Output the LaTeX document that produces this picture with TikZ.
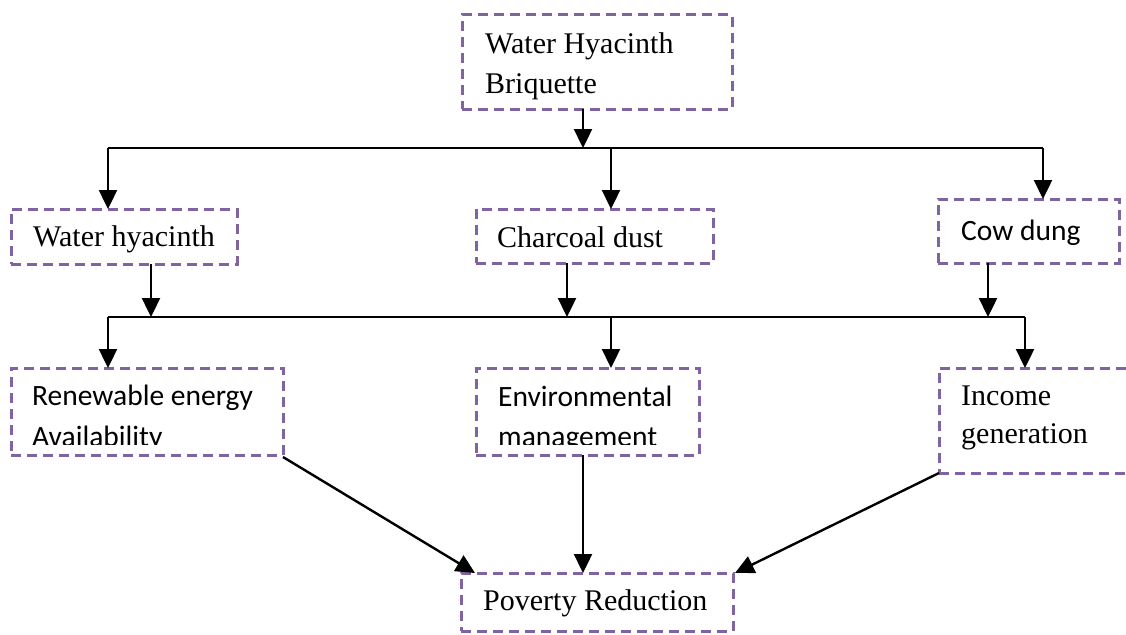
\documentclass[tikz,border=0pt]{standalone}
\usepackage{fontspec}
\setmainfont{Liberation Serif}
\newfontfamily\calibri{Carlito}
\usetikzlibrary{arrows.meta}
\definecolor{boxpurple}{RGB}{128,100,162}
\begin{document}
\begin{tikzpicture}[x=1pt,y=-1pt,
  box/.style={draw=boxpurple, line width=3pt, dash pattern=on 10pt off 6pt, rectangle, inner sep=0pt, outer sep=0pt},
  conn/.style={line width=2.4pt, black},
  arr/.style={conn, -{Triangle[length=19pt,width=18pt]}},
  txt/.style={anchor=base west, inner sep=0pt, font=\fontsize{30}{36}\selectfont},
  ctxt/.style={anchor=base west, inner sep=0pt, font=\fontsize{29.5}{36}\calibri}]
\useasboundingbox (0,0) rectangle (1126,634);

% boxes
\node[box, minimum width=270pt, minimum height=94pt] (top) at (597,62) {};
\node[box, minimum width=226pt, minimum height=55pt] (wh) at (124,236.5) {};
\node[box, minimum width=237pt, minimum height=54pt] (cd) at (594.5,236) {};
\node[box, minimum width=181pt, minimum height=64pt] (cow) at (1028.5,231) {};
\node[box, minimum width=272pt, minimum height=87pt] (ren) at (147,411.5) {};
\node[box, minimum width=223pt, minimum height=87pt] (env) at (587.5,411.5) {};
\node[box, minimum width=201pt, minimum height=105pt] (inc) at (1039.5,420.5) {};
\node[box, minimum width=272pt, minimum height=58pt] (pov) at (597,602) {};

% texts
\node[txt] (top1) at (485,53) {Water Hyacinth};
\node[txt] (top2) at (485,93) {Briquette};
\node[txt] (wht) at (33,246) {Water hyacinth};
\node[txt] (cdt) at (497,247) {Charcoal dust};
\node[ctxt] (cowt) at (961,240) {Cow dung};
\node[ctxt] (ren1) at (32,405) {Renewable energy};
\begin{scope}
  \clip (11,368) rectangle (283,444);
  \node[ctxt] (ren2) at (32,446) {Availability};
\end{scope}
\node[ctxt] (env1) at (498,406) {Environmental};
\begin{scope}
  \clip (476,368) rectangle (699,444);
  \node[ctxt] (env2) at (498,446) {management};
\end{scope}
\node[txt] (inc1) at (961,405) {Income};
\node[txt] (inc2) at (961,443) {generation};
\node[txt] (povt) at (483,610) {Poverty Reduction};

% junction coordinates
\coordinate (j1) at (583,148);
\coordinate (b1l) at (108,148);
\coordinate (b1m) at (611,148);
\coordinate (b1r) at (1043,148);
\coordinate (s1) at (151,317);
\coordinate (s2) at (567,317);
\coordinate (s3) at (988,317);
\coordinate (b2l) at (108,317);
\coordinate (b2m) at (611,317);
\coordinate (b2r) at (1025,317);
\coordinate (pm) at (583,0);

% first level
\draw[arr] (top.south -| j1) -- (j1);
\draw[conn] (b1l) -- (b1r);
\draw[arr] (b1l) -- (b1l |- wh.north);
\draw[arr] (b1m) -- (b1m |- cd.north);
\draw[arr] (b1r) -- (b1r |- cow.north);

% second level
\draw[arr] (s1 |- wh.south) -- (s1);
\draw[arr] (s2 |- cd.south) -- (s2);
\draw[arr] (s3 |- cow.south) -- (s3);
\draw[conn] (b2l) -- (b2r);
\draw[arr] (b2l) -- (b2l |- ren.north);
\draw[arr] (b2m) -- (b2m |- env.north);
\draw[arr] (b2r) -- (b2r |- inc.north);

% to poverty reduction
\draw[arr] ([yshift=-2pt]ren.south east) -- ([xshift=14pt]pov.north west);
\draw[arr] (env.south -| pm) -- (pov.north -| pm);
\draw[arr] (inc.south west) -- ([xshift=2pt]pov.north east);
\end{tikzpicture}
\end{document}
